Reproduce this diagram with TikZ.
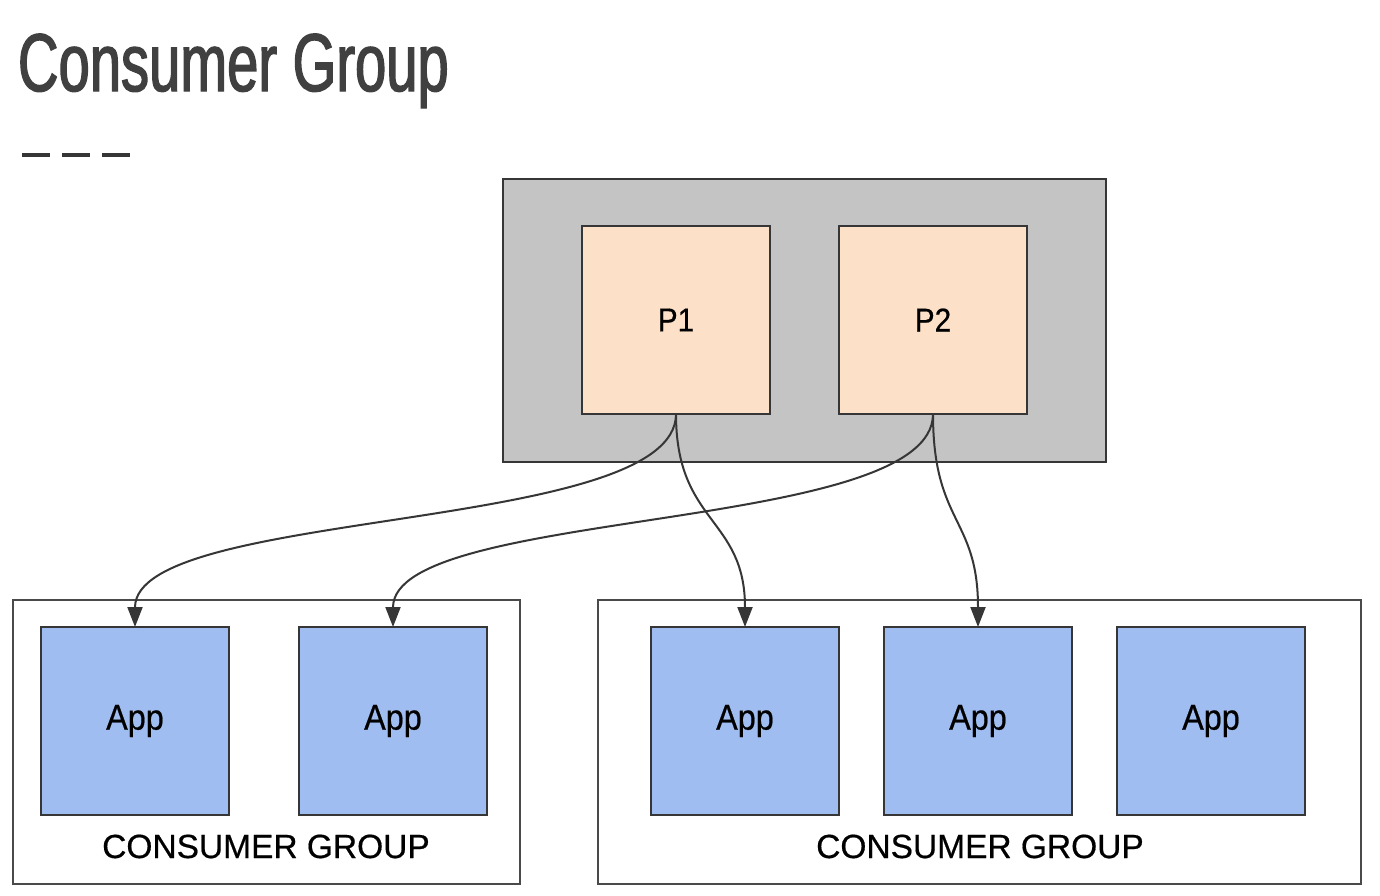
\documentclass[tikz,border=0pt]{standalone}
\usepackage{fontspec}
\usetikzlibrary{arrows.meta}
\setmainfont{Liberation Sans}
\newfontfamily\titlefont[FakeStretch=0.685,FakeBold=1.6]{Liberation Sans}
\newfontfamily\boxfont[FakeStretch=0.9,FakeBold=0.5]{Liberation Sans}
\newfontfamily\groupfont[FakeBold=0.5]{Liberation Sans}
\definecolor{brokergray}{HTML}{C4C4C4}
\definecolor{partpeach}{HTML}{FCE1C8}
\definecolor{appblue}{HTML}{9FBDF0}
\definecolor{edgegray}{HTML}{363636}

\begin{document}
\begin{tikzpicture}[x=1pt,y=-1pt]
        \tikzstyle{every node}=[inner sep=0pt, outer sep=0pt]
        \tikzstyle{box}=[draw=edgegray, line width=1.8pt, rectangle]
        \tikzstyle{part}=[box, fill=partpeach, minimum size=188pt, font=\boxfont\fontsize{33}{36}\selectfont]
        \tikzstyle{app}=[box, fill=appblue, minimum size=188pt, font=\boxfont\fontsize{36}{40}\selectfont]
        \tikzstyle{group}=[box, draw=edgegray!90, line width=1.5pt]
        \tikzstyle{flow}=[draw=edgegray, line width=2pt, -{Triangle[length=20pt,width=15pt]}]
        \useasboundingbox (0,0) rectangle (1380,895);
        \fill[white] (0,0) rectangle (1380,895);
        % title
        \node[anchor=base west, text=edgegray!95, font=\titlefont\fontsize{82}{90}\selectfont] (title) at (18,91) {Consumer Group};
        \draw[edgegray, line width=3.5pt, dash pattern=on 28pt off 12pt] (22,155) -- (130,155);
        % broker with partitions
        \node[box, fill=brokergray, minimum width=603pt, minimum height=283pt] (broker) at (804.5,320.5) {};
        \node[part] (p1) at (676,320) {P1};
        \node[part] (p2) at (933,320) {P2};
        % consumer groups
        \node[group, minimum width=507pt, minimum height=284pt] (grpa) at (266.5,742) {};
        \node[group, minimum width=763pt, minimum height=284pt] (grpb) at (979.5,742) {};
        \node[app] (app1) at (135,721) {App};
        \node[app] (app2) at (393,721) {App};
        \node[app] (app3) at (745,721) {App};
        \node[app] (app4) at (978,721) {App};
        \node[app] (app5) at (1211,721) {App};
        \node[anchor=base, font=\groupfont\fontsize{33.5}{36}\selectfont] (laba) at (266,858) {CONSUMER GROUP};
        \node[anchor=base, font=\groupfont\fontsize{33.5}{36}\selectfont] (labb) at (980,858) {CONSUMER GROUP};
        % partitions to consumers
        \draw[flow] (p1.south) .. controls +(0,120) and +(0,-120) .. (app1.north);
        \draw[flow] (p1.south) .. controls +(0,110) and +(0,-110) .. (app3.north);
        \draw[flow] (p2.south) .. controls +(0,120) and +(0,-120) .. (app2.north);
        \draw[flow] (p2.south) .. controls +(0,110) and +(0,-110) .. (app4.north);
    \end{tikzpicture}
\end{document}
